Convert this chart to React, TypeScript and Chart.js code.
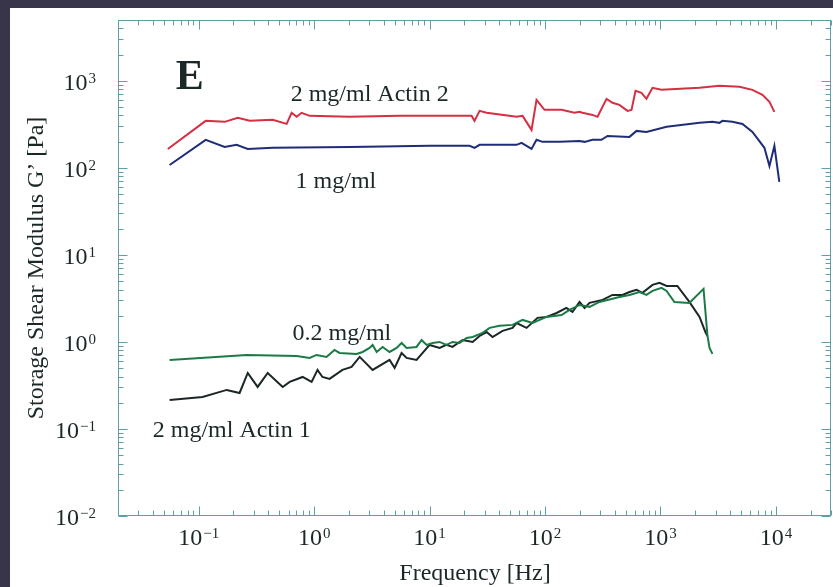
import React, { useEffect, useRef } from "react";
import { Chart, registerables } from "chart.js";

Chart.register(...registerables);

// ---------- data (frequency in Hz, storage modulus G' in Pa) ----------
const actin2Freq = [0.054, 0.115, 0.168, 0.218, 0.277, 0.437, 0.578, 0.638, 0.706, 0.779, 0.914, 2.03, 5.5, 10, 23.1, 24.5, 27.1, 31.2, 56.7, 63.9, 76.4, 84.4, 99, 139, 180, 199, 211, 258, 285, 341, 384, 441, 518, 561, 608, 684, 756, 853, 1020, 2180, 3240, 4830, 6260, 7640, 8790, 9700];
const actin2G = [165, 347, 338, 376, 347, 356, 320, 429, 386, 429, 396, 386, 396, 396, 396, 347, 452, 429, 386, 396, 273, 605, 464, 464, 429, 440, 429, 406, 386, 621, 559, 530, 452, 464, 767, 728, 621, 831, 788, 831, 877, 853, 788, 690, 574, 440];

const oneMgFreq = [0.056, 0.115, 0.168, 0.213, 0.266, 0.437, 2.03, 10, 22.2, 24.5, 27.1, 56.7, 62.6, 76.4, 84.4, 95.1, 134, 199, 220, 258, 308, 348, 539, 620, 756, 1130, 2180, 2820, 3240, 3440, 4200, 5130, 6260, 7950, 8790, 9700, 10700];
const oneMgG = [108, 210, 174, 184, 165, 170, 174, 179, 179, 170, 184, 184, 194, 165, 210, 199, 199, 204, 199, 210, 210, 233, 227, 266, 259, 296, 329, 338, 329, 347, 338, 320, 259, 170, 105, 179, 69];

const pointTwoFreq = [0.056, 0.26, 0.706, 0.914, 1.05, 1.28, 1.5, 1.66, 2.33, 2.63, 3.02, 3.21, 3.48, 3.92, 4.5, 5.18, 5.72, 6.32, 7.71, 8.53, 9.42, 10.6, 12.2, 14.0, 15.8, 18.2, 20.9, 23.6, 28.8, 33.1, 40.4, 52.3, 63.9, 78, 103, 139, 163, 199, 243, 296, 441, 539, 658, 756, 853, 1020, 1130, 1320, 1780, 2360, 2550, 2660, 2820];
const pointTwoG = [0.621, 0.709, 0.69, 0.655, 0.709, 0.673, 0.809, 0.747, 0.728, 0.767, 0.853, 0.924, 0.767, 0.876, 0.767, 0.853, 0.974, 0.853, 0.876, 1.054, 0.924, 0.974, 1.0, 0.924, 1.0, 0.974, 1.11, 1.14, 1.27, 1.45, 1.53, 1.57, 1.79, 1.65, 1.94, 2.04, 2.33, 2.66, 2.53, 2.88, 3.29, 3.47, 3.75, 3.47, 3.86, 4.18, 3.86, 2.88, 2.81, 4.07, 1.2, 0.853, 0.728];

const actin1Freq = [0.056, 0.108, 0.175, 0.226, 0.266, 0.324, 0.396, 0.534, 0.614, 0.795, 0.951, 1.07, 1.18, 1.36, 1.76, 2.11, 2.48, 3.21, 4.5, 4.98, 5.72, 6.32, 7.71, 10, 12.2, 14, 15.8, 19.3, 23.6, 27.1, 31.2, 35.1, 42.9, 52.3, 56.7, 69.2, 86.1, 103, 126, 153, 173, 199, 220, 243, 315, 384, 469, 539, 620, 698, 853, 980, 1130, 1400, 1780, 2180, 2450, 2550];
const actin1G = [0.215, 0.233, 0.281, 0.259, 0.44, 0.304, 0.44, 0.304, 0.347, 0.396, 0.347, 0.477, 0.396, 0.376, 0.477, 0.516, 0.673, 0.477, 0.621, 0.503, 0.747, 0.655, 0.621, 0.924, 0.853, 0.924, 0.876, 1.054, 1.0, 1.17, 1.3, 1.14, 1.34, 1.45, 1.65, 1.45, 1.89, 1.94, 2.15, 2.46, 2.21, 2.88, 2.46, 2.81, 3.04, 3.47, 3.47, 3.75, 3.96, 3.66, 4.52, 4.77, 4.4, 4.4, 2.88, 1.94, 1.3, 1.17];

const seriesNames = ["2 mg/ml Actin 2", "1 mg/ml", "0.2 mg/ml", "2 mg/ml Actin 1"];

// tick labels: powers of ten
const xTickExponents = [-1, 0, 1, 2, 3, 4];
const yTickExponents = [-2, -1, 0, 1, 2, 3];
const xTitle = "Frequency [Hz]";
const yTitle = "Storage Shear Modulus G\u2019 [Pa]";
const panelLetter = "E";

// ---------- styles ----------
const FONT = '"Liberation Serif", "Times New Roman", serif';
const TEXT_COLOR = "#1b2828";
const AXIS_COLOR = "#5f9fa6";
const COLORS = ["#d42f43", "#1f2d78", "#1c7a46", "#1b2626"];

// in-plot labels, anchored at (frequency, modulus) of their left baseline
const annotations = [
  { text: panelLetter, f: 0.0632, g: 809, bold: true, size: 42 },
  { text: seriesNames[0], f: 0.626, g: 589, bold: false, size: 24 },
  { text: seriesNames[1], f: 0.691, g: 58.9, bold: false, size: 24 },
  { text: seriesNames[2], f: 0.651, g: 1.054, bold: false, size: 24 },
  { text: seriesNames[3], f: 0.04, g: 0.081, bold: false, size: 24 },
];

const zip = (xs: number[], ys: number[]) => xs.map((x, i) => ({ x, y: ys[i] }));

const supText = (k: number) => (k < 0 ? "\u2212" + Math.abs(k) : String(k));

function drawPow(ctx: CanvasRenderingContext2D, k: number, x: number, y: number, align: "right" | "center") {
  ctx.font = `24px ${FONT}`;
  const w1 = ctx.measureText("10").width;
  ctx.font = `15px ${FONT}`;
  const s = supText(k);
  const w2 = ctx.measureText(s).width;
  const total = w1 + 1 + w2;
  const start = align === "right" ? x - total : x - total / 2;
  ctx.textAlign = "left";
  ctx.textBaseline = "alphabetic";
  ctx.font = `24px ${FONT}`;
  ctx.fillText("10", start, y);
  ctx.font = `15px ${FONT}`;
  ctx.fillText(s, start + w1 + 1, y - 7);
}

const decorPlugin = {
  id: "decor",
  afterDraw(chart: any) {
    const { ctx, chartArea: a } = chart;
    const xs = chart.scales.x;
    const ys = chart.scales.y;
    ctx.save();
    ctx.strokeStyle = AXIS_COLOR;
    ctx.lineWidth = 1;
    const L = Math.round(a.left) + 0.5;
    const R = Math.round(a.right) - 0.5;
    const T = Math.round(a.top) + 0.5;
    const B = Math.round(a.bottom) - 0.5;
    ctx.strokeRect(L, T, R - L, B - T);

    ctx.beginPath();
    for (let k = -3; k <= 5; k++) {
      for (let m = 1; m <= 9; m++) {
        const v = m * Math.pow(10, k);
        const len = m === 1 ? 9 : 5;
        if (v >= xs.min * 0.999 && v <= xs.max * 1.001) {
          const px = Math.round(xs.getPixelForValue(v)) + 0.5;
          ctx.moveTo(px, B);
          ctx.lineTo(px, B - len);
          ctx.moveTo(px, T);
          ctx.lineTo(px, T + len);
        }
        if (v >= ys.min * 0.999 && v <= ys.max * 1.001) {
          const py = Math.round(ys.getPixelForValue(v)) + 0.5;
          ctx.moveTo(L, py);
          ctx.lineTo(L + len, py);
          ctx.moveTo(R, py);
          ctx.lineTo(R - len, py);
        }
      }
    }
    ctx.stroke();

    ctx.fillStyle = TEXT_COLOR;
    xTickExponents.forEach((k) => {
      const px = xs.getPixelForValue(Math.pow(10, k));
      drawPow(ctx, k, px, a.bottom + 29, "center");
    });
    yTickExponents.forEach((k) => {
      const py = ys.getPixelForValue(Math.pow(10, k));
      drawPow(ctx, k, a.left - 22, py + 9, "right");
    });

    // axis titles
    ctx.font = `24px ${FONT}`;
    ctx.textAlign = "center";
    ctx.textBaseline = "alphabetic";
    ctx.fillText(xTitle, (a.left + a.right) / 2 + 0.5, a.bottom + 64);
    ctx.save();
    ctx.translate(a.left - 75, (a.top + a.bottom) / 2);
    ctx.rotate(-Math.PI / 2);
    ctx.fillText(yTitle, 0, 0);
    ctx.restore();

    // in-plot labels
    ctx.textAlign = "left";
    annotations.forEach((an) => {
      ctx.font = `${an.bold ? "bold " : ""}${an.size}px ${FONT}`;
      ctx.fillText(an.text, xs.getPixelForValue(an.f), ys.getPixelForValue(an.g));
    });
    ctx.restore();
  },
};

export default function App() {
  const ref = useRef<HTMLCanvasElement | null>(null);

  useEffect(() => {
    if (!ref.current) return;
    const mk = (label: string, xs: number[], ys: number[], color: string) => ({
      label,
      data: zip(xs, ys),
      borderColor: color,
      backgroundColor: color,
      borderWidth: 2,
      pointRadius: 0,
      tension: 0,
      fill: false,
    });
    const chart = new Chart(ref.current, {
      type: "line",
      data: {
        datasets: [
          mk(seriesNames[0], actin2Freq, actin2G, COLORS[0]),
          mk(seriesNames[1], oneMgFreq, oneMgG, COLORS[1]),
          mk(seriesNames[2], pointTwoFreq, pointTwoG, COLORS[2]),
          mk(seriesNames[3], actin1Freq, actin1G, COLORS[3]),
        ],
      },
      options: {
        responsive: false,
        animation: false,
        layout: { padding: { left: 108, right: 2, top: 12, bottom: 71 } },
        plugins: { legend: { display: false }, tooltip: { enabled: false } },
        scales: {
          x: { type: "logarithmic", min: 0.02, max: 30000, bounds: "data", display: false },
          y: { type: "logarithmic", min: 0.01, max: 5000, bounds: "data", display: false },
        },
      },
      plugins: [decorPlugin],
    } as any);
    return () => chart.destroy();
  }, []);

  return (
    <div style={{ position: "fixed", left: 0, top: 0, width: 833, height: 587, background: "#38354a", overflow: "hidden" }}>
      <canvas
        ref={ref}
        width={823}
        height={579}
        style={{ position: "absolute", left: 10, top: 8, width: 823, height: 579, background: "#ffffff" }}
      />
    </div>
  );
}
